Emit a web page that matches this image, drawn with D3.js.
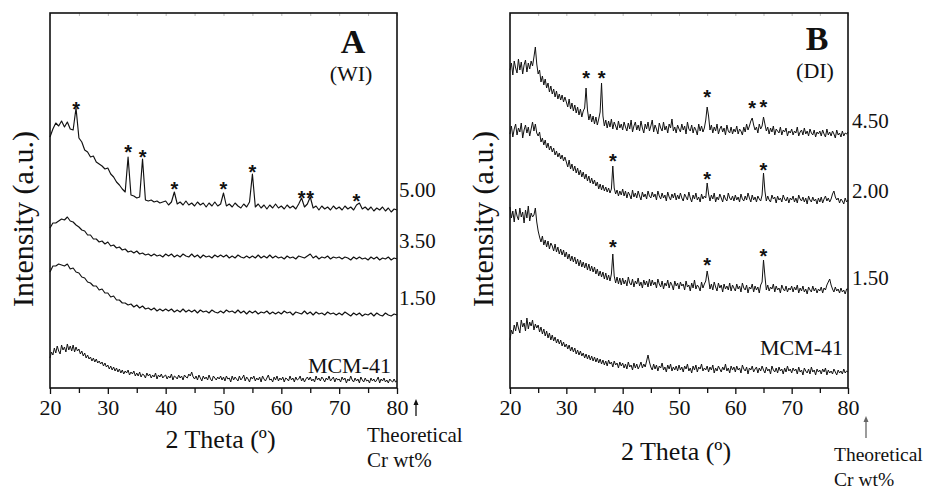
<!DOCTYPE html>
<html><head><meta charset="utf-8">
<script src="https://cdn.jsdelivr.net/npm/d3@7/dist/d3.min.js"></script>
<style>
html,body{margin:0;padding:0;background:#fff;}
svg{display:block;}
text{font-family:"Liberation Serif","Times New Roman",serif;fill:#111;}
</style></head>
<body>
<svg id="chart" width="925" height="490"></svg>
<script>
// ---------- DATA ----------
const grid05 = d3.range(0, 121).map(i => 20 + i * 0.5);   // 20..80 step 0.5
const grid025 = d3.range(0, 241).map(i => 20 + i * 0.25); // 20..80 step 0.25
const xTicks = [20, 30, 40, 50, 60, 70, 80];
const xMinor = [25, 35, 45, 55, 65, 75];

// Panel A (WI) – intensity (a.u., stacked)
const wi_500 = [251,259,265,262,267,261,266,259,258,280,
250,246,238,236,231,232,226,224,222,219,
220,214,211,206,203,199,196,231,193,192,
190,191,229,188,187,188,186,187,185,186,
187,183,186,196,184,186,183,187,183,185,
182,186,183,185,181,185,182,186,182,184,
195,182,184,181,185,182,180,184,181,186,
214,181,184,180,183,179,183,180,184,180,
182,179,183,180,182,179,184,190,181,184,
191,180,182,178,182,179,181,178,182,179,
181,178,182,179,181,178,183,185,179,181,
178,181,177,180,178,181,177,180,176,179,
178];
const wi_350 = [160,165,165,167,169,168,171,167,166,163,
161,158,157,153,153,149,149,146,147,144,
146,142,143,140,141,138,139,136,137,135,
137,134,135,133,134,132,134,132,133,131,
134,132,134,131,133,131,134,132,131,134,
131,133,130,133,131,132,130,133,131,133,
131,133,130,132,130,133,131,130,132,130,
132,130,133,130,132,130,133,130,132,130,
131,129,132,130,131,129,132,131,130,132,
134,130,132,129,131,130,132,129,131,130,
131,129,131,130,128,131,129,131,129,130,
128,131,129,131,128,130,129,131,128,130,
129];
const wi_150 = [116,122,122,124,123,122,124,119,120,116,
115,111,110,106,105,102,102,98,99,95,
95,91,92,88,88,85,85,83,84,81,
83,80,82,79,80,78,80,77,79,77,
79,77,79,76,78,76,79,76,78,76,
78,75,78,76,77,75,78,76,75,77,
75,78,76,77,75,78,75,77,74,77,
75,77,74,76,75,77,74,76,74,76,
74,77,75,76,73,76,75,74,77,74,
76,73,76,74,75,73,76,74,75,73,
75,73,76,74,72,75,73,75,72,74,
73,75,72,75,73,72,75,73,72,74,
73];
// MCM-41 (WI panel), sampled every 0.25°
const wi_mcm = [30,36,33,40,35,42,37,34,43,38,41,36,44,38,42,37,43,36,41,37,
39,34,37,32,35,30,33,29,31,27,30,26,29,25,27,24,26,22,25,21,
23,19,22,18,21,17,20,16,19,15,18,14,17,15,18,13,16,14,17,12,
15,12,16,11,14,13,10,15,12,14,10,13,11,15,9,13,11,14,10,12,
13,9,12,10,14,8,12,11,9,13,10,12,8,13,11,10,14,12,16,11,
9,12,8,13,10,7,12,9,11,8,13,9,7,12,10,8,11,9,12,8,
11,7,12,9,10,6,12,8,11,9,7,12,8,10,13,7,11,9,6,11,
9,12,7,10,8,11,6,12,9,7,10,13,8,9,6,11,8,12,7,10,
8,11,6,10,9,7,12,8,10,6,11,8,9,12,7,10,6,9,11,8,
11,7,9,6,12,8,10,7,11,9,6,10,8,12,7,9,11,6,10,8,
9,6,11,8,10,5,9,7,12,8,6,10,7,9,5,11,8,6,10,7,
8,5,10,7,9,6,8,11,5,9,7,10,6,8,5,9,7,6,9,6,
7];
const wiLabels = ["5.00", "3.50", "1.50", "MCM-41"];
const wiStarX = [24.5, 33.5, 36.0, 41.5, 50.0, 55.0, 63.5, 65.0, 73.0];
const wiStarY = [283, 240, 235, 203, 203, 220, 194, 194, 191];

// Panel B (DI), sampled every 0.25°
const di_450 = [318,325,313,327,320,315,329,318,326,314,323,328,316,325,319,327,322,331,341,324,
314,318,306,312,303,309,300,305,296,302,294,299,291,297,289,294,288,293,286,291,
286,281,289,279,285,277,283,275,281,273,279,271,277,280,300,278,268,274,266,272,
264,271,263,269,276,305,272,262,268,260,267,261,269,259,266,262,258,267,260,264,
258,266,261,257,265,259,268,256,262,266,258,263,257,267,260,255,264,259,266,257,
262,268,256,263,259,254,265,260,257,266,258,262,255,264,260,269,257,261,255,263,
259,256,264,258,262,254,266,259,257,263,255,261,258,253,264,257,262,256,260,268,
281,272,258,263,255,261,257,264,254,259,262,256,260,253,263,257,255,261,254,259,
256,262,254,259,257,253,261,256,264,258,262,267,270,263,258,261,255,264,259,262,
271,264,257,261,254,260,256,262,253,259,257,255,261,253,258,256,260,252,257,255,
259,253,257,255,261,252,256,258,253,260,254,257,252,259,255,253,258,251,256,254,
257,252,258,254,251,259,253,256,252,257,254,250,258,253,255,251,257,252,255,254,
256];
const di_200 = [254,262,251,259,264,253,260,256,265,250,258,263,255,261,252,259,266,257,264,255,
252,256,246,250,243,248,240,245,238,242,236,240,233,237,231,235,229,233,227,231,
226,221,228,219,224,217,222,215,220,213,218,211,216,209,214,207,212,205,210,204,
208,202,206,199,204,198,203,197,201,196,200,195,199,222,200,194,198,192,197,193,
199,192,197,190,196,193,189,198,191,195,190,197,192,188,196,191,194,189,197,192,
190,196,191,194,188,197,192,189,195,190,193,187,196,191,188,194,190,195,188,193,
189,195,190,187,194,191,188,196,190,186,193,189,195,188,191,186,194,189,192,190,
205,194,187,193,189,195,186,191,188,194,190,186,193,189,187,195,190,188,192,187,
193,188,191,186,194,189,187,192,188,195,190,186,193,188,191,186,192,189,187,193,
215,197,187,192,188,186,193,189,191,185,192,188,190,186,193,189,187,191,185,190,
188,192,186,190,185,193,189,187,191,186,190,184,192,188,186,191,187,189,184,190,
186,191,185,189,192,187,190,186,189,194,197,191,188,190,185,189,187,184,190,186,
188];
const di_150 = [181,170,177,166,179,172,168,180,171,176,165,178,170,182,167,175,171,173,180,166,
157,151,146,152,143,148,141,147,139,145,142,137,144,136,141,134,139,133,138,131,
136,129,134,127,132,126,131,124,129,122,128,121,126,120,125,118,124,117,122,116,
121,114,119,112,117,111,116,109,115,108,113,107,114,134,112,105,111,104,110,103,
110,104,108,102,111,105,103,109,101,107,104,110,102,106,100,108,103,107,101,109,
102,108,103,106,100,109,104,101,107,99,105,102,108,100,106,103,98,107,102,105,
99,106,102,104,98,107,101,103,97,105,100,108,99,103,101,97,106,100,104,107,
117,109,99,104,98,106,101,97,105,100,103,96,104,99,102,98,105,97,103,100,
97,104,99,102,96,105,100,98,103,95,101,99,104,96,102,98,101,95,103,106,
128,112,98,103,97,101,99,104,96,102,98,100,95,103,99,97,102,96,100,98,
102,96,101,98,103,95,100,97,102,96,99,94,101,98,96,102,97,100,95,99,
97,101,95,100,98,103,106,109,103,99,96,101,97,99,95,100,96,98,94,99,
99];
const di_mcm = [48,58,54,63,57,66,60,55,68,61,65,57,70,59,66,62,68,58,64,60,
63,56,61,54,59,52,57,50,55,48,53,47,51,45,49,44,48,42,46,41,
44,39,43,37,41,36,40,34,38,33,37,32,35,30,34,29,33,28,32,27,
31,26,30,25,29,24,28,23,27,22,28,24,26,21,27,23,25,20,26,22,
25,20,24,19,26,21,23,18,25,20,24,19,22,26,20,24,21,27,33,26,
21,18,24,19,23,17,22,20,25,18,21,16,23,19,24,17,21,18,22,17,
23,18,21,16,22,19,24,17,20,15,22,18,23,16,21,19,24,17,20,18,
22,16,21,18,23,15,20,17,22,19,16,21,18,24,17,20,15,22,18,21,
16,22,18,20,15,23,19,17,21,14,20,18,22,16,19,21,15,20,17,22,
18,15,21,17,19,14,22,18,16,20,15,21,17,19,14,20,16,22,17,19,
15,20,17,19,14,21,16,18,13,20,17,15,19,14,21,16,18,13,19,16,
18,14,19,16,20,13,18,15,17,14,19,16,13,18,15,17,14,19,15,17,
16];
const diLabels = ["4.50", "2.00", "1.50", "MCM-41"];
const diStarX = [33.5, 36.25, 55.0, 63.0, 65.0, 38.25, 55.0, 65.0, 38.25, 55.0, 65.0];
const diStarY = [314, 314, 295, 284, 285, 231, 213, 222, 145, 127, 136];

// ---------- DRAW ----------
const svg = d3.select("#chart");

function panel(cfg) {
  const x = d3.scaleLinear().domain([20, 80]).range([cfg.left, cfg.right]);
  const y = d3.scaleLinear().domain([0, 375]).range([cfg.bottom, cfg.top]);
  const g = svg.append("g");

  // top faint minor ticks
  g.append("g").attr("transform", `translate(0,${cfg.top})`)
    .call(d3.axisBottom(x).tickValues(d3.range(20, 81, 5)).tickSize(3).tickFormat(""))
    .call(s => s.select(".domain").remove())
    .call(s => s.selectAll("line").attr("stroke", "#bbb"));

  // bottom axis
  const ax = g.append("g").attr("transform", `translate(0,${cfg.bottom})`)
    .call(d3.axisBottom(x).tickValues(xTicks).tickSize(6).tickPadding(5).tickFormat(d3.format("d")));
  ax.select(".domain").remove();
  ax.selectAll("line").attr("stroke", "#111").attr("stroke-width", 1.3);
  ax.selectAll("text").style("font-family", '"Liberation Serif",serif').style("font-size", "22px").attr("fill", "#111");
  g.append("g").attr("transform", `translate(0,${cfg.bottom})`)
    .call(d3.axisBottom(x).tickValues(xMinor).tickSize(5).tickFormat(""))
    .call(s => s.select(".domain").remove())
    .call(s => s.selectAll("line").attr("stroke", "#111").attr("stroke-width", 1.3));

  // frame
  g.append("rect").attr("x", cfg.left).attr("y", cfg.top)
    .attr("width", cfg.right - cfg.left).attr("height", cfg.bottom - cfg.top)
    .attr("fill", "none").attr("stroke", "#111").attr("stroke-width", 1.6);

  // curves
  cfg.series.forEach(s => {
    const line = d3.line().x((d, i) => x(s.xs[i])).y(d => y(d));
    g.append("path").datum(s.vals).attr("d", line)
      .attr("fill", "none").attr("stroke", "#111").attr("stroke-width", s.lw)
      .attr("stroke-linejoin", "round");
  });

  // stars
  cfg.starX.forEach((sx, i) => {
    g.append("text").attr("x", x(sx)).attr("y", y(cfg.starY[i]) + 11)
      .attr("text-anchor", "middle")
      .style("font-family", '"Liberation Sans",Arial,sans-serif')
      .style("font-weight", "bold").style("font-size", "20px").text("*");
  });

  // series labels
  cfg.labels.forEach((lab, i) => {
    const p = cfg.labelPos[i];
    g.append("text").attr("x", p[0]).attr("y", p[1])
      .attr("text-anchor", p[2]).style("font-size", p[3] + "px").text(lab);
  });

  // panel letter
  g.append("text").attr("x", cfg.letterX).attr("y", cfg.letterY)
    .attr("text-anchor", "middle").style("font-size", "34px").style("font-weight", "bold").text(cfg.letter);
  g.append("text").attr("x", cfg.letterX - 2).attr("y", cfg.letterY + 28)
    .attr("text-anchor", "middle").style("font-size", "22px").text(cfg.method);

  // axis titles
  g.append("text").attr("x", (cfg.left + cfg.right) / 2 - 3).attr("y", cfg.xTitleY)
    .attr("text-anchor", "middle").style("font-size", "26px").text("2 Theta (º)");
  g.append("text").attr("transform", `translate(${cfg.yTitleX},219) rotate(-90)`)
    .attr("text-anchor", "middle").style("font-size", "30px").text("Intensity (a.u.)");

  // arrow + Theoretical Cr wt%
  const a = cfg.arrow;
  g.append("line").attr("x1", a.x).attr("x2", a.x).attr("y1", a.y2).attr("y2", a.y1 + 3)
    .attr("stroke", a.color).attr("stroke-width", 1.3);
  g.append("path").attr("d", `M${a.x - 2.5},${a.y1 + 6} L${a.x},${a.y1} L${a.x + 2.5},${a.y1 + 6} Z`)
    .attr("fill", a.color);
  g.append("text").attr("x", cfg.theoX).attr("y", cfg.theoY).style("font-size", cfg.theoSize + "px").text("Theoretical");
  g.append("text").attr("x", cfg.theoX).attr("y", cfg.theoY + 25).style("font-size", cfg.theoSize + "px").text("Cr wt%");
}

panel({
  left: 50, right: 397, top: 13, bottom: 388,
  series: [
    {vals: wi_500, xs: grid05, lw: 1.15},
    {vals: wi_350, xs: grid05, lw: 1.15},
    {vals: wi_150, xs: grid05, lw: 1.15},
    {vals: wi_mcm, xs: grid025, lw: 1.0}
  ],
  starX: wiStarX, starY: wiStarY,
  labels: wiLabels,
  labelPos: [[399, 197, "start", 21], [399, 248, "start", 21], [399, 305, "start", 21], [391, 373, "end", 22]],
  letter: "A", method: "(WI)", letterX: 353, letterY: 53,
  xTitleY: 448, yTitleX: 33,
  arrow: {x: 416, y1: 399, y2: 416, color: "#111"},
  theoX: 367, theoY: 442, theoSize: 21
});

panel({
  left: 510, right: 848, top: 13, bottom: 388,
  series: [
    {vals: di_450, xs: grid025, lw: 1.0},
    {vals: di_200, xs: grid025, lw: 1.0},
    {vals: di_150, xs: grid025, lw: 1.0},
    {vals: di_mcm, xs: grid025, lw: 1.0}
  ],
  starX: diStarX, starY: diStarY,
  labels: diLabels,
  labelPos: [[852, 128, "start", 21], [852, 198, "start", 21], [852, 285, "start", 21], [843, 355, "end", 22]],
  letter: "B", method: "(DI)", letterX: 817, letterY: 50,
  xTitleY: 460, yTitleX: 493,
  arrow: {x: 866, y1: 416, y2: 438, color: "#666"},
  theoX: 834, theoY: 461, theoSize: 19.5
});
</script>
</body></html>
